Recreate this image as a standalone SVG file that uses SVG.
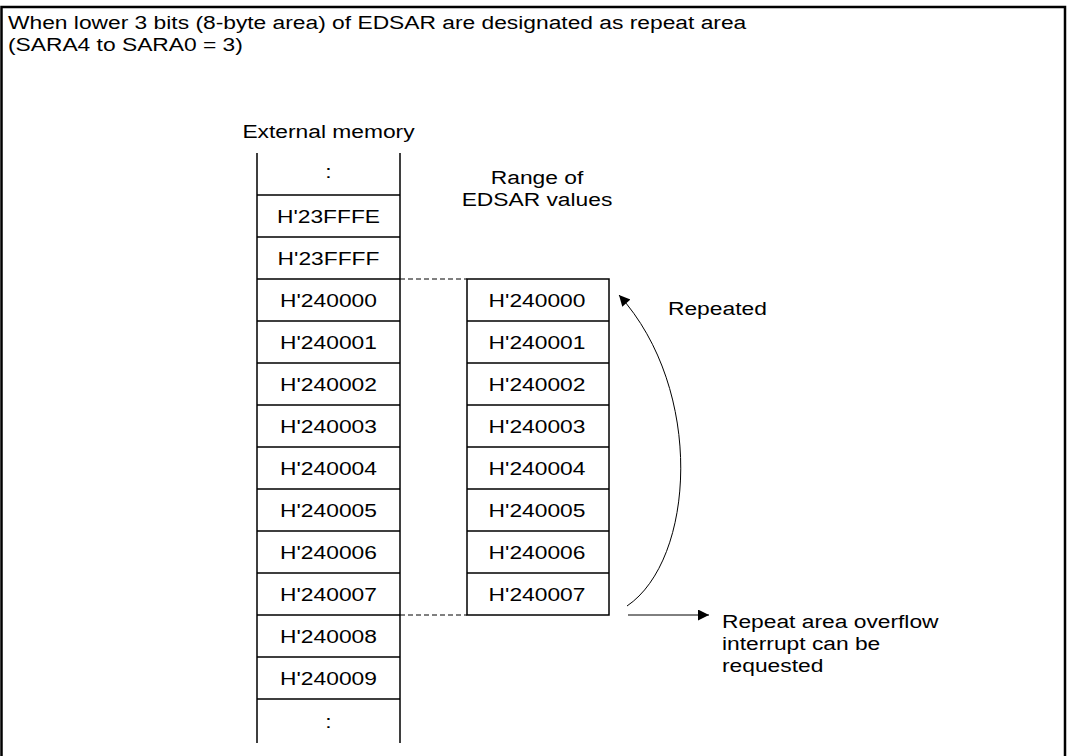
<svg xmlns="http://www.w3.org/2000/svg" width="1067" height="756" viewBox="0 0 1067 756">
<style>
text{font-family:"Liberation Sans",Arial,sans-serif;font-size:19px;fill:#000}
.c{text-anchor:middle}
.ln{stroke:#000;stroke-width:1.5;fill:none}
.cell{stroke:#000;stroke-width:1.5;fill:#fff}
.dash{stroke:#000;stroke-width:1;stroke-dasharray:5 3;fill:none}
</style>
<defs>
<marker id="ah" viewBox="0 0 10 10" refX="10" refY="5" markerWidth="16" markerHeight="11" markerUnits="userSpaceOnUse" orient="auto"><path d="M0,0 L10,5 L0,10 Z" fill="#000"/></marker>
</defs>
<rect width="1067" height="756" fill="#fff"/>
<path d="M1.5,760 V7 H1065 V760" fill="none" stroke="#000" stroke-width="2.5"/>
<g id="title" transform="matrix(1.2 0 0 1 -1.6 0)">
<text x="8" y="29">When lower 3 bits (8-byte area) of EDSAR are designated as repeat area</text>
<text x="8" y="51">(SARA4 to SARA0 = 3)</text>
</g>
<g id="external-memory">
<path class="ln" d="M257,153 V743 M400,153 V743"/>
<path class="ln" d="M257,195 H400 M257,237 H400 M257,279 H400 M257,321 H400 M257,363 H400 M257,405 H400 M257,447 H400 M257,489 H400 M257,531 H400 M257,573 H400 M257,615 H400 M257,657 H400 M257,699 H400"/>
<g transform="matrix(1.2 0 0 1 -65.7 0)">
<text class="c" x="328.5" y="138">External memory</text>
<text class="c" x="328.5" y="178">:</text>
<text class="c" x="328.5" y="223">H'23FFFE</text>
<text class="c" x="328.5" y="265">H'23FFFF</text>
<text class="c" x="328.5" y="307">H'240000</text>
<text class="c" x="328.5" y="349">H'240001</text>
<text class="c" x="328.5" y="391">H'240002</text>
<text class="c" x="328.5" y="433">H'240003</text>
<text class="c" x="328.5" y="475">H'240004</text>
<text class="c" x="328.5" y="517">H'240005</text>
<text class="c" x="328.5" y="559">H'240006</text>
<text class="c" x="328.5" y="601">H'240007</text>
<text class="c" x="328.5" y="643">H'240008</text>
<text class="c" x="328.5" y="685">H'240009</text>
<text class="c" x="328.5" y="728">:</text>
</g>
</g>
<g id="edsar-range">
<rect class="cell" x="467" y="279" width="142" height="336"/>
<path class="ln" d="M467,321 H609 M467,363 H609 M467,405 H609 M467,447 H609 M467,489 H609 M467,531 H609 M467,573 H609"/>
<g transform="matrix(1.2 0 0 1 -107.4 0)">
<text class="c" x="537" y="184">Range of</text>
<text class="c" x="537" y="206">EDSAR values</text>
<text class="c" x="537" y="307">H'240000</text>
<text class="c" x="537" y="349">H'240001</text>
<text class="c" x="537" y="391">H'240002</text>
<text class="c" x="537" y="433">H'240003</text>
<text class="c" x="537" y="475">H'240004</text>
<text class="c" x="537" y="517">H'240005</text>
<text class="c" x="537" y="559">H'240006</text>
<text class="c" x="537" y="601">H'240007</text>
</g>
</g>
<g id="repeated-label" transform="matrix(1.2 0 0 1 -133.6 0)"><text x="668" y="315">Repeated</text></g>
<g id="overflow-label" transform="matrix(1.2 0 0 1 -144.4 0)">
<text x="722" y="628">Repeat area overflow</text>
<text x="722" y="650">interrupt can be</text>
<text x="722" y="672">requested</text>
</g>
<g id="connectors">
<path class="dash" d="M400,279 H467 M400,615 H467"/>
<path d="M627,606 C695,560 705,390 619,295" fill="none" stroke="#000" stroke-width="1" marker-end="url(#ah)"/>
<path d="M628,615 H709" fill="none" stroke="#000" stroke-width="1" marker-end="url(#ah)"/>
</g>
</svg>
